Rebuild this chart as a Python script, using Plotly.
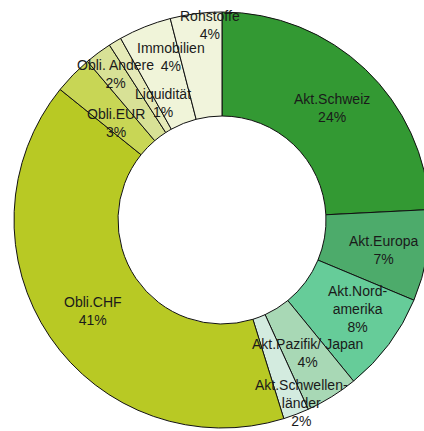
import math
import plotly.graph_objects as go

categories = ["Akt.Schweiz", "Akt.Europa", "Akt.Nord-<br>amerika", "Akt.Pazifik/ Japan",
              "Akt.Schwellen-<br>länder", "Obli.CHF", "Obli.EUR", "Obli. Andere",
              "Liquidität", "Immobilien", "Rohstoffe"]
values = [24.2, 7.1, 7.8, 4.1, 2.0, 40.6, 3.0, 2.1, 1.0, 4.1, 4.0]
colors = ["#339933", "#4dab6b", "#66cc99", "#a8d8b5", "#d3ebdf", "#b8c924",
          "#c8d655", "#d8e196", "#e6eab8", "#f0f4d9", "#f1f4dc"]

# label placement (styling): radial fraction of outer radius, angular offset (deg)
label_r = [0.755, 0.79, 0.78, 0.76, 0.96, 0.76, 0.69, 0.87, 0.63, 0.82, 0.94]
label_dang = [0.9, 0.7, -3.5, -0.7, -2.6, -1.1, -1.6, 0.5, 4.4, 4.4, 3.7]

W, H = 440, 431
dom_x = [14 / W, 430 / W]
dom_y = [3 / H, 419 / H]

fig = go.Figure(go.Pie(
    labels=categories,
    values=values,
    sort=False,
    direction="clockwise",
    rotation=0,
    hole=0.5,
    marker=dict(colors=colors, line=dict(color="#111111", width=1)),
    textinfo="none",
    hoverinfo="label+percent",
    showlegend=False,
    domain=dict(x=dom_x, y=dom_y),
))

# labels placed around the ring from the data (cumulative share -> angle)
total = sum(values)
cx_px = (dom_x[0] + dom_x[1]) / 2 * W
cy_px = (1 - (dom_y[0] + dom_y[1]) / 2) * H
R_px = min((dom_x[1] - dom_x[0]) * W, (dom_y[1] - dom_y[0]) * H) / 2
cum = 0.0
for lab, v, rf, da in zip(categories, values, label_r, label_dang):
    mid = (cum + v / 2) / total * 360 + da
    cum += v
    a = math.radians(mid)
    px = cx_px + rf * R_px * math.sin(a)
    py = cy_px - rf * R_px * math.cos(a)
    pct = round(v / total * 100)
    fig.add_annotation(
        x=px / W, y=1 - py / H, xref="paper", yref="paper",
        text=f"{lab}<br>{pct}%", showarrow=False,
        xanchor="center", yanchor="middle", align="center",
        font=dict(family="Liberation Sans, Arial, sans-serif", size=14, color="#1a1a1a"),
    )

fig.update_layout(
    width=W, height=H, autosize=False,
    margin=dict(l=0, r=0, t=0, b=0),
    paper_bgcolor="white",
)
fig.write_html("out.html", post_script="document.documentElement.style.overflow='hidden';document.body.style.overflow='hidden';document.body.style.margin='0';")
